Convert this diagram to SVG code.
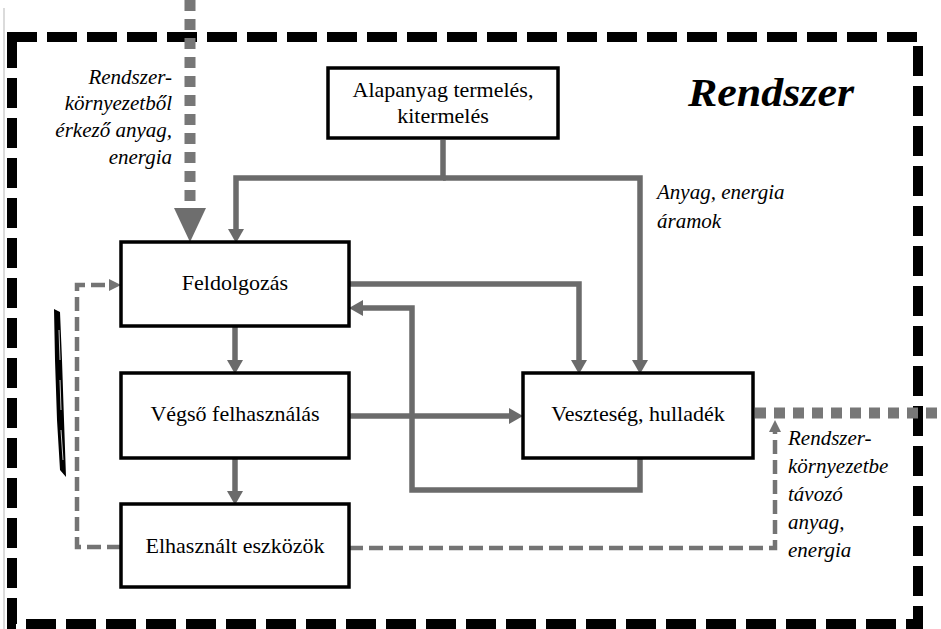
<svg xmlns="http://www.w3.org/2000/svg" width="941" height="629" viewBox="0 0 941 629">
<style>
text{font-family:'Liberation Serif','DejaVu Serif',serif}
.box{fill:#fff;stroke:#000;stroke-width:3.5}
.t{font-size:22px;fill:#000;text-anchor:middle}
.it{font-size:21px;font-style:italic;fill:#000}
.ttl{font-size:40px;font-weight:bold;font-style:italic;fill:#000}
.c{fill:none;stroke:#6b6b6b;stroke-width:5.5;stroke-linejoin:miter}
.d{fill:none;stroke:#747474;stroke-width:4.5;stroke-dasharray:14 6}
.dot{fill:none;stroke:#777;stroke-width:11;stroke-dasharray:11 8}
</style>
<defs>
<marker id="a" markerUnits="userSpaceOnUse" viewBox="0 0 14 16" markerWidth="14" markerHeight="16" refX="0" refY="8" orient="auto"><path d="M0,0 L14,8 L0,16 Z" fill="#6b6b6b"/></marker>
<marker id="s" markerUnits="userSpaceOnUse" viewBox="0 0 12 12" markerWidth="12" markerHeight="12" refX="0" refY="6" orient="auto"><path d="M0,0 L12,6 L0,12 Z" fill="#747474"/></marker>
<marker id="b" markerUnits="userSpaceOnUse" viewBox="0 0 34 32" markerWidth="34" markerHeight="32" refX="0" refY="16" orient="auto"><path d="M0,0 L34,16 L0,32 Z" fill="#6e6e6e"/></marker>
</defs>
<rect width="941" height="629" fill="#fff"/>
<line x1="4" y1="8" x2="4" y2="629" stroke="#cfcfcf" stroke-width="1.5"/>
<g id="border">
<path d="M12,42 V37 H918 V624 H12 Z" fill="none" stroke="#000" stroke-width="10" stroke-dasharray="30 10"/>
</g>
<g id="title"><text class="ttl" x="688" y="106" textLength="166" lengthAdjust="spacingAndGlyphs">Rendszer</text></g>
<g id="scribble">
<path d="M54,309 L60,312 L62,360 L64,420 L66,477 L60,470 L57,420 L55,360 Z" fill="#000"/>
<path d="M59,330 L60,360 M60,380 L61,410 M61,430 L63,460" stroke="#fff" stroke-width="0.8" fill="none"/>
</g>
<g id="connectors">
<path class="c" d="M443,140 V178 H236 V229" marker-end="url(#a)"/>
<path class="c" d="M443,178 H640 V360" marker-end="url(#a)"/>
<path class="c" d="M349,284 H579 V360" marker-end="url(#a)"/>
<path class="c" d="M640,458 V490 H412 V308 H363" marker-end="url(#a)"/>
<path class="c" d="M349,416 H509" marker-end="url(#a)"/>
<path class="c" d="M235,326 V360" marker-end="url(#a)"/>
<path class="c" d="M235,458 V491" marker-end="url(#a)"/>
<path class="d" d="M121,547 H77 V285 H109" marker-end="url(#s)"/>
<path class="d" d="M349,548 H775 V432" marker-end="url(#s)"/>
<path class="dot" d="M190,0 V208"/>
<path d="M190,208 V208.1" fill="none" stroke="none" marker-end="url(#b)"/>
<path class="dot" d="M755,413 H941"/>
</g>
<g id="alapanyag"><rect class="box" x="328" y="68" width="230" height="70"/><text class="t" x="443" y="97">Alapanyag termelés,</text><text class="t" x="443" y="123">kitermelés</text></g>
<g id="feldolgozas"><rect class="box" x="121" y="242" width="228" height="84"/><text class="t" x="235" y="290">Feldolgozás</text></g>
<g id="vegso"><rect class="box" x="121" y="373" width="228" height="85"/><text class="t" x="235" y="421">Végső felhasználás</text></g>
<g id="elhasznalt"><rect class="box" x="121" y="504" width="228" height="83"/><text class="t" x="235" y="553">Elhasznált eszközök</text></g>
<g id="veszteseg"><rect class="box" x="523" y="373" width="230" height="85"/><text class="t" x="638" y="421">Veszteség, hulladék</text></g>
<g id="labels">
<text class="it" text-anchor="end" x="172" y="84">Rendszer-</text>
<text class="it" text-anchor="end" x="172" y="110">környezetből</text>
<text class="it" text-anchor="end" x="172" y="137">érkező anyag,</text>
<text class="it" text-anchor="end" x="172" y="164">energia</text>
<text class="it" x="657" y="199">Anyag, energia</text>
<text class="it" x="657" y="228">áramok</text>
<text class="it" x="788" y="445">Rendszer-</text>
<text class="it" x="788" y="473">környezetbe</text>
<text class="it" x="788" y="501">távozó</text>
<text class="it" x="788" y="529">anyag,</text>
<text class="it" x="788" y="557">energia</text>
</g>
</svg>
